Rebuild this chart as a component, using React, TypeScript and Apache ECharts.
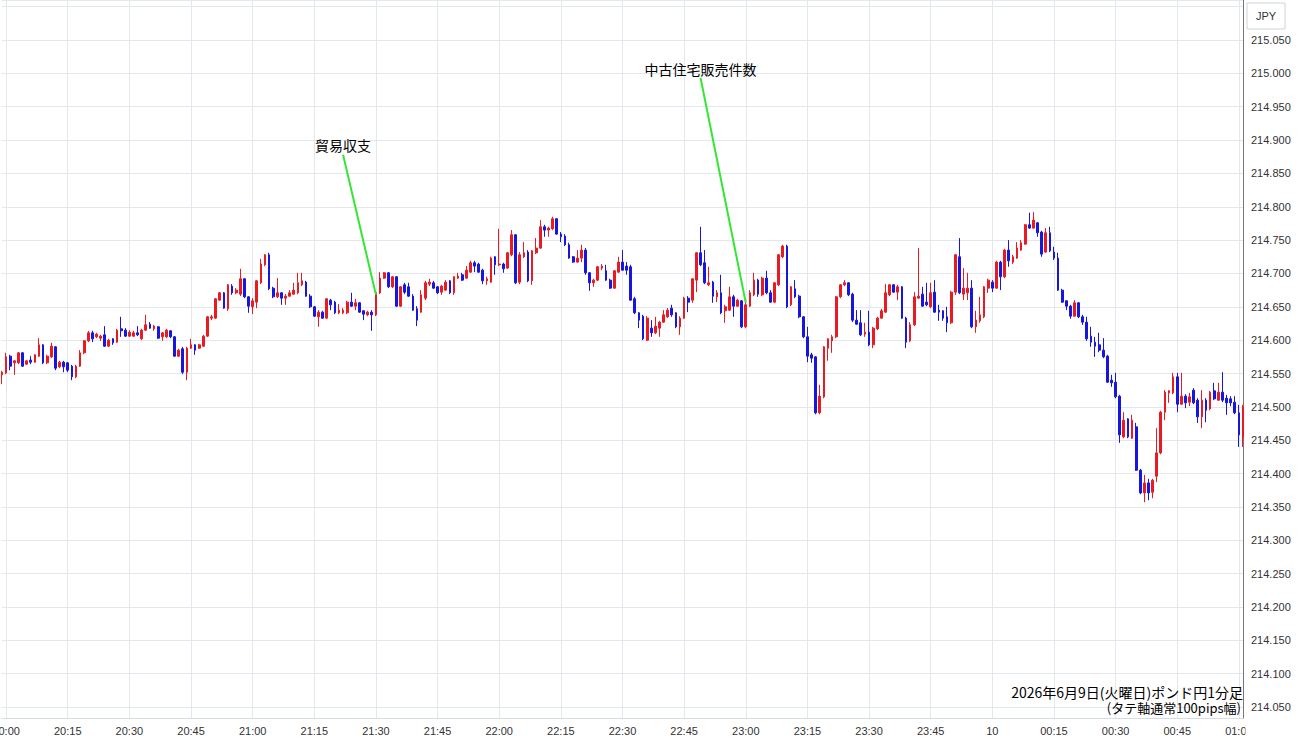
import React, { useEffect, useRef } from "react";
import * as echarts from "echarts";

// GBP/JPY 1-minute candles, 19:59 -> 01:01
const opens = [
  214.548, 214.551, 214.576, 214.566, 214.566, 214.581, 214.564, 214.570, 214.567, 214.576,
  214.593, 214.566, 214.575, 214.590, 214.560, 214.567, 214.566, 214.561, 214.545, 214.561,
  214.581, 214.599, 214.611, 214.605, 214.603, 214.608, 214.591, 214.602, 214.597, 214.617,
  214.615, 214.606, 214.606, 214.611, 214.602, 214.615, 214.624, 214.617, 214.620, 214.605,
  214.605, 214.614, 214.605, 214.576, 214.587, 214.552, 214.588, 214.593, 214.588, 214.591,
  214.606, 214.633, 214.633, 214.660, 214.671, 214.647, 214.681, 214.671, 214.669, 214.692,
  214.665, 214.650, 214.657, 214.686, 214.713, 214.728, 214.678, 214.665, 214.671, 214.663,
  214.666, 214.669, 214.671, 214.683, 214.687, 214.666, 214.650, 214.635, 214.642, 214.633,
  214.660, 214.657, 214.641, 214.641, 214.641, 214.657, 214.651, 214.656, 214.644, 214.638,
  214.642, 214.638, 214.671, 214.693, 214.701, 214.680, 214.695, 214.651, 214.683, 214.680,
  214.666, 214.647, 214.642, 214.663, 214.684, 214.686, 214.680, 214.672, 214.675, 214.689,
  214.671, 214.693, 214.698, 214.693, 214.702, 214.716, 214.714, 214.705, 214.689, 214.687,
  214.725, 214.713, 214.714, 214.708, 214.728, 214.758, 214.687, 214.725, 214.732, 214.689,
  214.731, 214.738, 214.770, 214.765, 214.767, 214.782, 214.759, 214.756, 214.743, 214.725,
  214.717, 214.723, 214.735, 214.701, 214.686, 214.690, 214.708, 214.704, 214.690, 214.678,
  214.702, 214.717, 214.711, 214.710, 214.662, 214.641, 214.636, 214.600, 214.618, 214.611,
  214.618, 214.627, 214.635, 214.648, 214.641, 214.620, 214.633, 214.663, 214.660, 214.690,
  214.731, 214.716, 214.683, 214.687, 214.665, 214.671, 214.644, 214.645, 214.665, 214.651,
  214.659, 214.620, 214.651, 214.668, 214.690, 214.668, 214.693, 214.671, 214.657, 214.683,
  214.725, 214.741, 214.653, 214.677, 214.666, 214.635, 214.605, 214.578, 214.575, 214.491,
  214.515, 214.588, 214.599, 214.605, 214.665, 214.683, 214.686, 214.669, 214.630, 214.626,
  214.609, 214.612, 214.593, 214.617, 214.633, 214.642, 214.668, 214.683, 214.672, 214.680,
  214.633, 214.599, 214.623, 214.663, 214.669, 214.657, 214.650, 214.672, 214.645, 214.644,
  214.635, 214.626, 214.672, 214.725, 214.669, 214.671, 214.678, 214.620, 214.629, 214.635,
  214.678, 214.687, 214.678, 214.717, 214.695, 214.735, 214.717, 214.723, 214.735, 214.744,
  214.773, 214.768, 214.776, 214.762, 214.732, 214.761, 214.732, 214.723, 214.675, 214.659,
  214.651, 214.636, 214.656, 214.635, 214.627, 214.606, 214.597, 214.593, 214.585, 214.576,
  214.540, 214.537, 214.516, 214.455, 214.482, 214.453, 214.470, 214.405, 214.371, 214.386,
  214.372, 214.396, 214.431, 214.492, 214.521, 214.521, 214.545, 214.504, 214.516, 214.507,
  214.525, 214.510, 214.485, 214.510, 214.497, 214.524, 214.510, 214.522, 214.513, 214.512,
  214.507, 214.491, 214.455,
];

const closes = [
  214.552, 214.575, 214.561, 214.569, 214.581, 214.561, 214.569, 214.567, 214.578, 214.593,
  214.566, 214.576, 214.591, 214.558, 214.567, 214.560, 214.555, 214.545, 214.561, 214.581,
  214.599, 214.611, 214.602, 214.609, 214.606, 214.591, 214.600, 214.596, 214.615, 214.614,
  214.606, 214.612, 214.611, 214.608, 214.615, 214.623, 214.618, 214.621, 214.603, 214.611,
  214.615, 214.605, 214.576, 214.585, 214.552, 214.588, 214.593, 214.585, 214.593, 214.606,
  214.635, 214.635, 214.662, 214.671, 214.648, 214.683, 214.671, 214.675, 214.692, 214.665,
  214.651, 214.659, 214.689, 214.714, 214.728, 214.677, 214.665, 214.671, 214.663, 214.666,
  214.671, 214.675, 214.686, 214.689, 214.666, 214.650, 214.636, 214.642, 214.633, 214.662,
  214.653, 214.641, 214.645, 214.645, 214.657, 214.651, 214.656, 214.642, 214.639, 214.642,
  214.638, 214.671, 214.693, 214.701, 214.680, 214.695, 214.651, 214.680, 214.672, 214.666,
  214.645, 214.630, 214.668, 214.686, 214.687, 214.678, 214.671, 214.681, 214.687, 214.671,
  214.695, 214.696, 214.690, 214.705, 214.716, 214.711, 214.702, 214.689, 214.692, 214.723,
  214.713, 214.714, 214.707, 214.731, 214.758, 214.686, 214.728, 214.731, 214.689, 214.734,
  214.738, 214.770, 214.765, 214.768, 214.782, 214.759, 214.755, 214.743, 214.723, 214.717,
  214.723, 214.735, 214.701, 214.686, 214.690, 214.710, 214.711, 214.690, 214.678, 214.704,
  214.717, 214.705, 214.705, 214.660, 214.641, 214.630, 214.602, 214.633, 214.611, 214.621,
  214.627, 214.638, 214.645, 214.638, 214.620, 214.633, 214.663, 214.657, 214.692, 214.731,
  214.713, 214.686, 214.686, 214.666, 214.671, 214.641, 214.650, 214.665, 214.651, 214.660,
  214.620, 214.653, 214.671, 214.690, 214.669, 214.693, 214.671, 214.657, 214.686, 214.728,
  214.741, 214.650, 214.680, 214.665, 214.635, 214.605, 214.576, 214.573, 214.491, 214.516,
  214.590, 214.602, 214.605, 214.665, 214.683, 214.686, 214.668, 214.630, 214.624, 214.608,
  214.612, 214.593, 214.618, 214.633, 214.644, 214.671, 214.683, 214.672, 214.680, 214.633,
  214.597, 214.623, 214.665, 214.666, 214.651, 214.653, 214.671, 214.642, 214.642, 214.633,
  214.626, 214.672, 214.728, 214.671, 214.678, 214.678, 214.620, 214.630, 214.638, 214.680,
  214.690, 214.678, 214.717, 214.695, 214.735, 214.719, 214.725, 214.738, 214.746, 214.773,
  214.768, 214.780, 214.761, 214.729, 214.761, 214.734, 214.723, 214.675, 214.657, 214.651,
  214.636, 214.656, 214.635, 214.627, 214.602, 214.597, 214.591, 214.585, 214.575, 214.537,
  214.536, 214.515, 214.458, 214.480, 214.455, 214.480, 214.405, 214.371, 214.386, 214.371,
  214.390, 214.431, 214.492, 214.522, 214.524, 214.545, 214.504, 214.516, 214.506, 214.515,
  214.506, 214.485, 214.510, 214.495, 214.522, 214.512, 214.522, 214.510, 214.506, 214.506,
  214.491, 214.458, 214.500,
];

const lows = [
  214.534, 214.549, 214.555, 214.548, 214.564, 214.560, 214.563, 214.564, 214.566, 214.575,
  214.564, 214.564, 214.573, 214.555, 214.558, 214.552, 214.552, 214.540, 214.543, 214.560,
  214.579, 214.597, 214.597, 214.603, 214.599, 214.590, 214.590, 214.593, 214.596, 214.605,
  214.605, 214.605, 214.605, 214.606, 214.600, 214.614, 214.617, 214.614, 214.602, 214.599,
  214.603, 214.603, 214.575, 214.575, 214.549, 214.540, 214.587, 214.578, 214.587, 214.590,
  214.605, 214.630, 214.632, 214.659, 214.647, 214.644, 214.668, 214.669, 214.666, 214.663,
  214.641, 214.639, 214.648, 214.684, 214.711, 214.675, 214.663, 214.663, 214.653, 214.653,
  214.665, 214.668, 214.669, 214.681, 214.665, 214.648, 214.635, 214.620, 214.632, 214.632,
  214.645, 214.639, 214.639, 214.639, 214.639, 214.650, 214.645, 214.641, 214.630, 214.636,
  214.614, 214.636, 214.669, 214.692, 214.678, 214.678, 214.650, 214.650, 214.669, 214.665,
  214.644, 214.621, 214.641, 214.660, 214.681, 214.677, 214.669, 214.668, 214.674, 214.669,
  214.668, 214.692, 214.689, 214.692, 214.701, 214.702, 214.701, 214.684, 214.683, 214.686,
  214.698, 214.711, 214.701, 214.707, 214.726, 214.684, 214.684, 214.723, 214.687, 214.683,
  214.729, 214.737, 214.755, 214.755, 214.765, 214.758, 214.747, 214.741, 214.722, 214.716,
  214.716, 214.717, 214.698, 214.674, 214.680, 214.689, 214.705, 214.689, 214.677, 214.677,
  214.701, 214.704, 214.698, 214.659, 214.639, 214.618, 214.600, 214.599, 214.605, 214.609,
  214.605, 214.626, 214.633, 214.635, 214.618, 214.608, 214.632, 214.642, 214.656, 214.672,
  214.711, 214.684, 214.681, 214.656, 214.657, 214.639, 214.626, 214.644, 214.635, 214.650,
  214.618, 214.618, 214.650, 214.666, 214.665, 214.666, 214.669, 214.656, 214.656, 214.681,
  214.723, 214.648, 214.651, 214.663, 214.633, 214.603, 214.567, 214.566, 214.489, 214.489,
  214.513, 214.569, 214.581, 214.603, 214.663, 214.681, 214.666, 214.627, 214.623, 214.606,
  214.605, 214.591, 214.588, 214.615, 214.632, 214.641, 214.666, 214.671, 214.660, 214.632,
  214.588, 214.597, 214.621, 214.662, 214.650, 214.651, 214.648, 214.641, 214.629, 214.629,
  214.612, 214.624, 214.668, 214.669, 214.660, 214.660, 214.618, 214.611, 214.626, 214.633,
  214.671, 214.672, 214.677, 214.675, 214.693, 214.710, 214.714, 214.722, 214.734, 214.743,
  214.767, 214.767, 214.755, 214.725, 214.731, 214.732, 214.720, 214.674, 214.656, 214.645,
  214.632, 214.635, 214.633, 214.623, 214.599, 214.590, 214.575, 214.582, 214.573, 214.536,
  214.530, 214.513, 214.446, 214.453, 214.453, 214.452, 214.404, 214.369, 214.357, 214.360,
  214.363, 214.387, 214.429, 214.480, 214.506, 214.519, 214.492, 214.503, 214.498, 214.501,
  214.504, 214.476, 214.468, 214.477, 214.495, 214.510, 214.509, 214.507, 214.488, 214.501,
  214.489, 214.440, 214.440,
];

const highs = [
  214.554, 214.581, 214.578, 214.570, 214.582, 214.582, 214.570, 214.576, 214.579, 214.603,
  214.594, 214.578, 214.596, 214.591, 214.569, 214.569, 214.567, 214.563, 214.563, 214.585,
  214.600, 214.614, 214.614, 214.611, 214.608, 214.621, 214.602, 214.603, 214.617, 214.635,
  214.618, 214.615, 214.614, 214.621, 214.617, 214.638, 214.627, 214.623, 214.621, 214.612,
  214.617, 214.615, 214.606, 214.587, 214.590, 214.590, 214.602, 214.594, 214.594, 214.608,
  214.636, 214.638, 214.663, 214.672, 214.672, 214.684, 214.684, 214.678, 214.707, 214.693,
  214.666, 214.663, 214.690, 214.722, 214.729, 214.731, 214.680, 214.693, 214.672, 214.669,
  214.675, 214.686, 214.701, 214.701, 214.689, 214.669, 214.651, 214.645, 214.644, 214.663,
  214.662, 214.659, 214.654, 214.648, 214.659, 214.671, 214.662, 214.657, 214.645, 214.644,
  214.645, 214.672, 214.702, 214.702, 214.702, 214.696, 214.696, 214.681, 214.686, 214.686,
  214.669, 214.651, 214.675, 214.689, 214.692, 214.689, 214.681, 214.683, 214.690, 214.690,
  214.696, 214.701, 214.701, 214.711, 214.719, 214.719, 214.716, 214.707, 214.695, 214.725,
  214.726, 214.767, 214.716, 214.732, 214.765, 214.759, 214.732, 214.747, 214.735, 214.735,
  214.753, 214.780, 214.773, 214.770, 214.785, 214.783, 214.762, 214.759, 214.746, 214.726,
  214.735, 214.743, 214.738, 214.702, 214.692, 214.711, 214.714, 214.713, 214.692, 214.705,
  214.725, 214.735, 214.717, 214.713, 214.665, 214.642, 214.638, 214.636, 214.630, 214.635,
  214.629, 214.645, 214.648, 214.653, 214.642, 214.636, 214.665, 214.666, 214.693, 214.732,
  214.770, 214.735, 214.710, 214.689, 214.675, 214.698, 214.653, 214.680, 214.668, 214.662,
  214.660, 214.656, 214.675, 214.701, 214.692, 214.695, 214.704, 214.675, 214.687, 214.729,
  214.743, 214.743, 214.681, 214.690, 214.668, 214.636, 214.620, 214.581, 214.576, 214.533,
  214.591, 214.603, 214.608, 214.666, 214.684, 214.690, 214.687, 214.671, 214.645, 214.645,
  214.626, 214.644, 214.620, 214.635, 214.647, 214.684, 214.684, 214.684, 214.683, 214.681,
  214.635, 214.627, 214.672, 214.738, 214.680, 214.686, 214.686, 214.690, 214.653, 214.645,
  214.650, 214.674, 214.729, 214.753, 214.708, 214.701, 214.690, 214.644, 214.665, 214.681,
  214.692, 214.690, 214.719, 214.719, 214.737, 214.750, 214.728, 214.747, 214.750, 214.774,
  214.791, 214.792, 214.777, 214.764, 214.768, 214.770, 214.740, 214.731, 214.677, 214.660,
  214.653, 214.660, 214.657, 214.638, 214.635, 214.620, 214.605, 214.611, 214.603, 214.578,
  214.548, 214.551, 214.518, 214.492, 214.483, 214.488, 214.476, 214.407, 214.398, 214.392,
  214.392, 214.468, 214.494, 214.525, 214.525, 214.551, 214.551, 214.551, 214.519, 214.521,
  214.528, 214.513, 214.525, 214.513, 214.524, 214.536, 214.536, 214.552, 214.518, 214.516,
  214.516, 214.503, 214.503,
];

// minute categories starting at 19:59
const startMinute = 19 * 60 + 59;
const times = opens.map((_, i) => {
  const t = (startMinute + i) % 1440;
  return `${String(Math.floor(t / 60)).padStart(2, "0")}:${String(t % 60).padStart(2, "0")}`;
});

const labelEvery = 15;
const dayLabel = "10"; // shown instead of 00:00

const notes = [
  { text: "貿易収支", from: ["21:22", 214.878], to: ["21:30", 214.668] },
  { text: "中古住宅販売件数", from: ["22:49", 214.993], to: ["23:00", 214.656] },
];

const titleLines = ["2026年6月9日(火曜日)ポンド円1分足", "(タテ軸通常100pips幅)"];

const UP = "#ea1a22";
const DOWN = "#1616e0";
const GRID = "#e2e8ee";
const NUM_FONT = "'Liberation Sans', Arial, sans-serif";
const JP_FONT = "'Noto Sans CJK JP', sans-serif";

export default function App() {
  const ref = useRef<HTMLDivElement>(null);
  useEffect(() => {
    if (!ref.current) return;
    const chart = echarts.init(ref.current, null, { renderer: "svg" });
    const data = opens.map((o, i) => [o, closes[i], lows[i], highs[i]]);
    const option: any = {
      animation: false,
      backgroundColor: "#ffffff",
      grid: { left: 2, right: 57, top: 0, bottom: 27, containLabel: false, outerBoundsMode: "none" },
      xAxis: {
        type: "category",
        data: times,
        boundaryGap: false,
        axisLine: { show: true, lineStyle: { color: "#d5dce3" } },
        axisTick: { show: false },
        axisLabel: {
          interval: (i: number) => i % labelEvery === 1,
          formatter: (v: string) => (v === "00:00" ? dayLabel : v),
          color: "#333",
          fontSize: 11,
          margin: 7,
          fontFamily: NUM_FONT,
        },
        splitLine: {
          show: true,
          interval: (i: number) => i % labelEvery === 1,
          lineStyle: { color: GRID, width: 1 },
        },
      },
      yAxis: {
        type: "value",
        position: "right",
        min: 214.0335,
        max: 215.11,
        splitNumber: 21,
        axisLine: { show: true, lineStyle: { color: "#777" } },
        axisTick: { show: false },
        axisLabel: {
          showMinLabel: false,
          showMaxLabel: false,
          formatter: (v: number) => (v > 215.075 ? "" : v.toFixed(3)),
          color: "#333",
          fontSize: 11,
          margin: 8,
          fontFamily: NUM_FONT,
        },
        splitLine: { show: true, lineStyle: { color: GRID, width: 1 } },
      },
      series: [
        {
          type: "candlestick",
          data,
          barWidth: 2.2,
          itemStyle: {
            color: UP,
            color0: DOWN,
            borderColor: UP,
            borderColor0: DOWN,
            borderWidth: 1,
          },
          markLine: {
            silent: true,
            symbol: ["none", "none"],
            label: { show: false },
            lineStyle: { color: "#35e635", width: 2, type: "solid" },
            data: notes.map((n) => [{ coord: n.from }, { coord: n.to }]),
          },
          markPoint: {
            silent: true,
            symbol: "circle",
            symbolSize: 1,
            itemStyle: { color: "rgba(0,0,0,0)" },
            label: {
              show: true,
              position: "top",
              distance: 2,
              formatter: (p: any) => p.name,
              color: "#000",
              fontSize: 14,
              fontFamily: JP_FONT,
            },
            data: notes.map((n) => ({ name: n.text, coord: n.from })),
          },
        },
      ],
      graphic: [
        {
          type: "rect",
          z: 100,
          shape: { x: 1245.5, y: 719, width: 60, height: 30 },
          style: { fill: "#ffffff" },
        },
        {
          type: "rect",
          z: 100,
          shape: { x: 1247, y: 3, width: 38, height: 26 },
          style: { fill: "#ffffff", stroke: "#cfd5db", lineWidth: 1 },
        },
        {
          type: "text",
          z: 101,
          x: 1266,
          y: 16,
          style: {
            text: "JPY",
            align: "center",
            verticalAlign: "middle",
            fontSize: 11,
            fontFamily: NUM_FONT,
            fill: "#333",
          },
        },
        {
          type: "text",
          z: 101,
          x: 1243,
          y: 699,
          style: {
            text: `{a|${titleLines[0]}}\n{b|${titleLines[1]}}`,
            align: "right",
            verticalAlign: "middle",
            fontFamily: JP_FONT,
            fill: "#000",
            rich: {
              a: { fontSize: 14, lineHeight: 16, fontFamily: JP_FONT, fill: "#000" },
              b: { fontSize: 13, lineHeight: 15, fontFamily: JP_FONT, fill: "#000", padding: [0, 2, 0, 0] },
            },
          },
        },
      ],
    };
    chart.setOption(option);
    return () => chart.dispose();
  }, []);
  return (
    <div
      ref={ref}
      style={{ position: "fixed", left: 0, top: 0, width: 1300, height: 745, background: "#fff" }}
    />
  );
}
